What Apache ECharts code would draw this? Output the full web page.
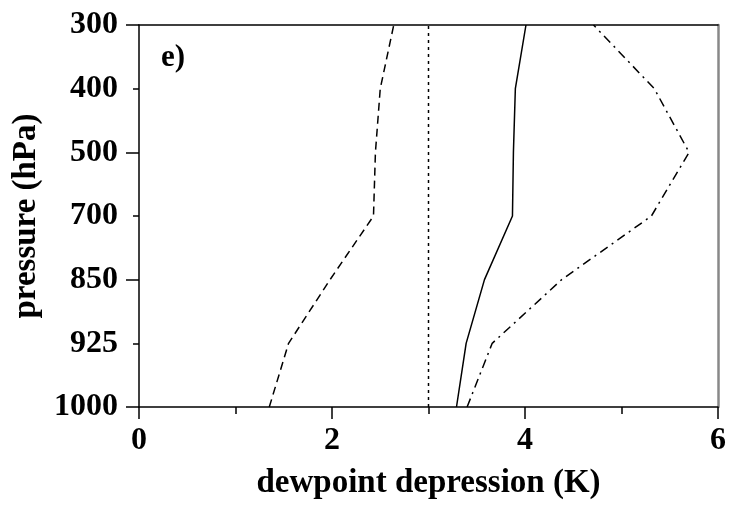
<!DOCTYPE html>
<html><head><meta charset="utf-8">
<script src="https://cdn.jsdelivr.net/npm/echarts@6/dist/echarts.min.js"></script>
<style>html,body{margin:0;padding:0;background:#fff}#c{width:729px;height:505px}</style>
</head><body><div id="c"></div>
<script>
const pressureLevels = ['1000','925','850','700','500','400','300'];
const dashedValues  = [1.35, 1.55, 1.98, 2.43, 2.45, 2.50, 2.64];
const solidValues   = [3.29, 3.39, 3.58, 3.87, 3.88, 3.90, 4.01];
const dashDotValues = [3.40, 3.66, 4.38, 5.31, 5.70, 5.34, 4.71];
const referenceValue = 3;
const longTickLevels = ['1000','850','500','300'];
const xTitle = 'dewpoint depression (K)';
const yTitle = 'pressure (hPa)';
const panelLabel = 'e)';

const FONT = 'Liberation Serif';
const pairs = vals => vals.map((v, i) => [v, pressureLevels[i]]);
const lineSeries = (vals, type) => ({
  type: 'line', data: pairs(vals), symbol: 'none', silent: true,
  lineStyle: {color: '#000', width: 1.5, type: type}
});

const chart = echarts.init(document.getElementById('c'), null, {renderer: 'canvas'});
chart.setOption({
  animation: false,
  grid: {left: 139, right: 7, top: 25, bottom: 90, containLabel: false},
  xAxis: [{
    type: 'value', min: 0, max: 6, interval: 2, position: 'bottom',
    name: xTitle, nameLocation: 'middle', nameGap: 60,
    nameTextStyle: {fontFamily: FONT, fontWeight: 'bold', fontSize: 33, color: '#000'},
    axisLine: {show: true, lineStyle: {color: '#000', width: 1.5}},
    axisTick: {show: true, length: 12, lineStyle: {color: '#000', width: 1.5}},
    minorTick: {show: true, splitNumber: 2, length: 7, lineStyle: {color: '#000', width: 1.5}},
    splitLine: {show: false},
    axisLabel: {fontFamily: FONT, fontWeight: 'bold', fontSize: 32, color: '#000', margin: 18}
  }, {
    type: 'value', min: 0, max: 6, position: 'top',
    axisLine: {show: true, lineStyle: {color: '#000', width: 1.5}},
    axisTick: {show: false}, axisLabel: {show: false}, splitLine: {show: false}
  }],
  yAxis: [{
    type: 'category', data: pressureLevels, boundaryGap: false, position: 'left',
    name: yTitle, nameLocation: 'middle', nameGap: 94,
    nameTextStyle: {fontFamily: FONT, fontWeight: 'bold', fontSize: 33, color: '#000'},
    axisLine: {show: true, lineStyle: {color: '#000', width: 1.5}},
    axisTick: {show: true, length: 6, interval: 0, lineStyle: {color: '#000', width: 1.5}},
    splitLine: {show: false},
    axisLabel: {fontFamily: FONT, fontWeight: 'bold', fontSize: 32, color: '#000', margin: 21, interval: 0}
  }, {
    type: 'category', data: pressureLevels, boundaryGap: false, position: 'left',
    axisLine: {show: false},
    axisTick: {show: true, length: 13, interval: (i, v) => longTickLevels.indexOf(v) >= 0,
      lineStyle: {color: '#000', width: 1.5}},
    axisLabel: {show: false}, splitLine: {show: false}
  }, {
    type: 'category', data: pressureLevels, boundaryGap: false, position: 'right',
    axisLine: {show: true, lineStyle: {color: '#888', width: 2.5}},
    axisTick: {show: false}, axisLabel: {show: false}, splitLine: {show: false}
  }],
  graphic: [{
    type: 'text', left: 161, top: 42,
    style: {text: panelLabel, fontFamily: FONT, fontWeight: 'bold', fontSize: 31, fill: '#000'}
  }],
  series: [
    lineSeries(dashedValues, [8, 5]),
    lineSeries(solidValues, 'solid'),
    lineSeries(dashDotValues, [9, 5, 2, 5]),
    lineSeries(pressureLevels.map(() => referenceValue), [3, 4])
  ]
});
</script></body></html>
